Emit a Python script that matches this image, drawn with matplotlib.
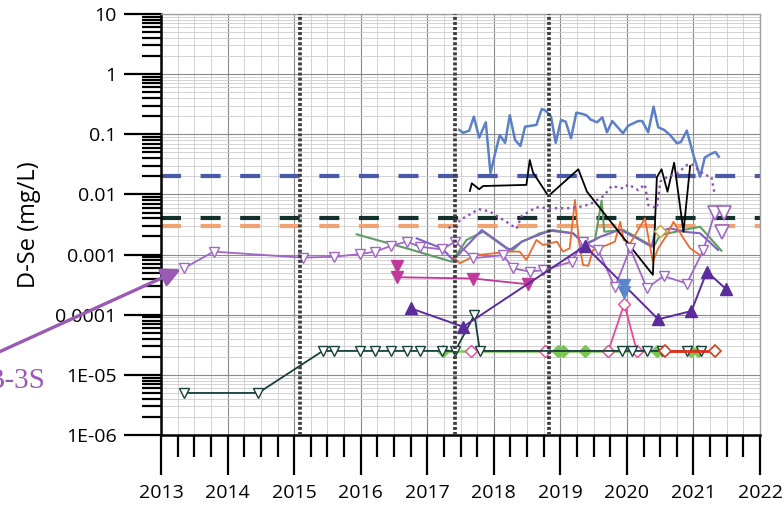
import matplotlib
matplotlib.use("Agg")
import matplotlib.pyplot as plt
from matplotlib.ticker import FixedLocator, FixedFormatter, LogLocator, MultipleLocator, NullFormatter

plt.rcParams['font.family'] = ['Open Sans', 'DejaVu Sans']

# screening levels (mg/L) and event dates
limit_blue = 0.02
limit_dark = 0.004
limit_orange = 0.003
event_years = [2015.09, 2017.42, 2018.83]

# B-3S well
b3s_t = [2013.34, 2013.79, 2015.13, 2015.60, 2015.99, 2016.22, 2016.46, 2016.69, 2016.89,
         2017.22, 2017.42, 2017.69, 2018.14, 2018.29, 2018.54, 2018.74, 2019.17, 2019.34,
         2019.57, 2019.82, 2020.05, 2020.30, 2020.55, 2020.90, 2021.15, 2021.32]
b3s_v = [0.00059, 0.00112, 0.00089, 0.00092, 0.00102, 0.00112, 0.0014, 0.00164, 0.00135,
         0.00122, 0.00164, 0.00087, 0.00098, 0.00059, 0.00052, 0.00055, 0.00076, 0.00164,
         0.00119, 0.000286, 0.00127, 0.000275, 0.00044, 0.00033, 0.00119, 0.0049]
b3s_last_t = [2021.32, 2021.46, 2021.43]
b3s_last_v = [0.0049, 0.0049, 0.0024]

# upstream well, mostly non-detect
teal_t = [2013.35, 2014.46, 2015.43, 2015.60, 2015.99, 2016.22, 2016.46, 2016.69, 2016.89,
          2017.22, 2017.42, 2017.71, 2017.79, 2019.92, 2020.07, 2020.30, 2020.52, 2020.90,
          2021.12]
teal_v = [5.0e-6, 5.0e-6, 2.5e-5, 2.5e-5, 2.5e-5, 2.5e-5, 2.5e-5, 2.5e-5, 2.5e-5,
          2.5e-5, 2.5e-5, 9.9e-5, 2.5e-5, 2.5e-5, 2.5e-5, 2.5e-5, 2.5e-5, 2.5e-5,
          2.5e-5]

blue_t = [2017.48, 2017.54, 2017.63, 2017.70, 2017.78, 2017.88, 2017.95, 2018.02, 2018.09,
          2018.17, 2018.24, 2018.32, 2018.40, 2018.47, 2018.64, 2018.72, 2018.78, 2018.86,
          2018.93, 2019.01, 2019.08, 2019.16, 2019.24, 2019.34, 2019.40, 2019.45, 2019.55,
          2019.63, 2019.70, 2019.78, 2019.94, 2020.02, 2020.17, 2020.23, 2020.32, 2020.40,
          2020.47, 2020.56, 2020.65, 2020.75, 2020.81, 2020.90, 2021.00, 2021.10, 2021.17,
          2021.25, 2021.33, 2021.38]
blue_v = [0.118, 0.106, 0.115, 0.196, 0.088, 0.158, 0.0224, 0.0483, 0.097,
          0.072, 0.207, 0.080, 0.064, 0.134, 0.143, 0.263, 0.247, 0.196,
          0.072, 0.173, 0.162, 0.086, 0.229, 0.217, 0.204, 0.177, 0.158,
          0.191, 0.108, 0.166, 0.104, 0.139, 0.166, 0.166, 0.108, 0.288,
          0.131, 0.118, 0.097, 0.071, 0.074, 0.115, 0.045, 0.0197, 0.041,
          0.0465, 0.0507, 0.0424]

black_t = [2017.64, 2017.67, 2017.78, 2017.84, 2018.49, 2018.54, 2018.59, 2018.82, 2019.27,
           2019.40, 2020.39, 2020.45, 2020.52, 2020.61, 2020.71, 2020.85, 2020.95]
black_v = [0.0114, 0.0153, 0.0122, 0.0138, 0.0144, 0.0374, 0.0230, 0.0094, 0.0262,
           0.0111, 0.00046, 0.0193, 0.0262, 0.0111, 0.0337, 0.0024, 0.0297]

pdot_t = [2017.32, 2017.42, 2017.49, 2017.59, 2017.77, 2017.94, 2018.19, 2018.34, 2018.42,
          2018.64, 2018.84, 2019.14, 2019.32, 2019.45, 2019.65, 2019.77, 2019.95, 2020.02,
          2020.17, 2020.27, 2020.32, 2020.45, 2020.50, 2020.60, 2020.77, 2020.90, 2020.97,
          2021.10, 2021.22, 2021.27, 2021.32]
pdot_v = [0.0029, 0.0024, 0.0038, 0.0043, 0.0057, 0.0052, 0.0035, 0.0027, 0.0044,
          0.0061, 0.0059, 0.0059, 0.0063, 0.0069, 0.0094, 0.0138, 0.0126, 0.0147,
          0.0118, 0.0147, 0.0067, 0.0059, 0.0163, 0.0193, 0.0230, 0.0308, 0.0321,
          0.0239, 0.0202, 0.0197, 0.0098]

orange_t = [2017.39, 2017.49, 2017.74, 2018.24, 2018.39, 2018.49, 2018.64, 2018.74, 2018.95,
            2019.04, 2019.14, 2019.22, 2019.28, 2019.34, 2019.42, 2019.49, 2019.70, 2019.82,
            2019.90, 2019.95, 2020.05, 2020.27, 2020.39, 2020.47, 2020.60, 2020.70, 2020.85,
            2020.95, 2021.10]
orange_v = [0.00091, 0.00072, 0.00098, 0.00112, 0.00112, 0.00081, 0.00175, 0.00144, 0.00164,
            0.00112, 0.00127, 0.0081, 0.00164, 0.00067, 0.00065, 0.00119, 0.00144, 0.00164,
            0.0035, 0.00175, 0.00154, 0.0040, 0.00076, 0.00127, 0.0021, 0.0035, 0.00186,
            0.00127, 0.00098]

green_t = [2015.94, 2016.69, 2017.37, 2017.59, 2017.84, 2018.19, 2018.29, 2018.42, 2018.54,
           2018.69, 2018.89, 2019.19, 2019.37, 2019.52, 2019.62, 2019.66, 2019.95, 2020.40,
           2020.50, 2020.85, 2021.10, 2021.42]
green_v = [0.00217, 0.00127, 0.00076, 0.00175, 0.0024, 0.00127, 0.00119, 0.00164, 0.00186,
           0.00226, 0.00256, 0.00226, 0.00154, 0.00175, 0.0079, 0.0024, 0.00256, 0.00135,
           0.0021, 0.00256, 0.0029, 0.00116]

mpurple_t = [2016.84, 2017.22, 2017.39, 2017.82, 2018.24, 2018.42, 2018.54, 2018.74, 2018.84,
             2019.19, 2019.37, 2019.60, 2019.90, 2020.15, 2020.37, 2020.42, 2020.65, 2020.85,
             2021.10, 2021.37]
mpurple_v = [0.00186, 0.00127, 0.00081, 0.00256, 0.00119, 0.00164, 0.00186, 0.00226, 0.0025,
             0.00226, 0.00144, 0.00198, 0.0026, 0.00186, 0.00135, 0.00226, 0.00274, 0.0024,
             0.00226, 0.00119]

magenta_t = [2016.54, 2016.54, 2017.69, 2018.52]
magenta_v = [0.00065, 0.00042, 0.0004, 0.00032]

dpurple_t = [2016.75, 2017.54, 2019.37, 2020.47, 2020.97, 2021.20, 2021.49]
dpurple_v = [0.000128, 6.3e-5, 0.00139, 8.4e-5, 0.000115, 0.00052, 0.000267]

lgreen_t = [2017.24, 2018.97, 2019.04, 2019.37, 2019.72, 2020.45, 2020.97, 2021.07]
lgreen_v = [2.5e-5, 2.5e-5, 2.5e-5, 2.5e-5, 2.5e-5, 2.5e-5, 2.5e-5, 2.5e-5]

pink_t = [2017.65, 2018.77, 2019.72, 2019.96, 2020.15]
pink_v = [2.5e-5, 2.5e-5, 2.5e-5, 0.00015, 2.5e-5]

red_t = [2020.57, 2021.32]
red_v = [2.5e-5, 2.5e-5]

bluetri_t = [2019.95, 2019.95]
bluetri_v = [0.00031, 0.00024]

olive_t = [2020.49]
olive_v = [0.0025]

ytick_vals = [1e-6, 1e-5, 1e-4, 1e-3, 1e-2, 1e-1, 1, 10]
ytick_labels = ['1E-06', '1E-05', '0.0001', '0.001', '0.01', '0.1', '1', '10']
xtick_years = [2013, 2014, 2015, 2016, 2017, 2018, 2019, 2020, 2021, 2022]

fig = plt.figure(figsize=(7.84, 5.05), dpi=100)
ax = fig.add_axes([0.2054, 0.1386, 0.7640, 0.8337])
ax.set_yscale('log')
ax.set_xlim(2013, 2022)
ax.set_ylim(1e-6, 10)

# grid
ax.set_axisbelow(True)
ax.grid(which='major', color='#8a8a8a', lw=0.8)
ax.grid(which='minor', color='#cccccc', lw=0.6)

# screening levels
dash = (0, (4.8, 4.7))
ax.axhline(limit_blue, color='#4a5aa8', lw=3, ls=dash, zorder=2)
ax.axhline(limit_dark, color='#12302c', lw=3, ls=dash, zorder=2)
ax.axhline(limit_orange, color='#f0a272', lw=3, ls=dash, zorder=2)

for yr in event_years:
    ax.axvline(yr, color='#3e3e3e', lw=2.7, ls=(0, (0.8, 0.55)), zorder=6)

ax.plot(green_t, green_v, color='#5f9e62', lw=1.5, zorder=3)
ax.plot(mpurple_t, mpurple_v, color='#8062c2', lw=1.5, zorder=3)
ax.plot(orange_t, orange_v, color='#ec6b2d', lw=1.3, zorder=3)
ax.plot(blue_t, blue_v, color='#5b80c8', lw=1.8, zorder=3)
ax.plot(black_t, black_v, color='black', lw=1.3, zorder=3)
ax.plot(pdot_t, pdot_v, color='#8e50b8', lw=1.7, ls=(0, (1, 1.6)), zorder=3)
ax.plot(lgreen_t, lgreen_v, color='#78c850', lw=1.8, marker='D', ms=6,
        mfc='#78c850', mec='#78c850', zorder=4)
ax.plot(pink_t, pink_v, color='#e8489c', lw=1.3, marker='D', ms=6,
        mfc='white', mec='#e8489c', mew=1.0, zorder=4)
ax.plot(teal_t, teal_v, color='#17403c', lw=1.3, marker='v', ms=7,
        mfc='white', mec='#17403c', mew=1.0, zorder=4)
ax.plot(red_t, red_v, color='#e3301e', lw=2, marker='D', ms=6,
        mfc='white', mec='#d0401c', mew=1.2, zorder=4)
ax.plot(b3s_t, b3s_v, color='#a066c8', lw=1.3, marker='v', ms=7,
        mfc='white', mec='#a066c8', mew=1.0, zorder=4)
ax.plot(b3s_last_t, b3s_last_v, ls='none', marker='v', ms=10,
        mfc='white', mec='#a066c8', mew=1.2, zorder=4)
ax.plot(magenta_t, magenta_v, color='#c0399a', lw=1.3, marker='v', ms=8,
        mfc='#c0399a', mec='#c0399a', zorder=4)
ax.plot(dpurple_t, dpurple_v, color='#5b2c9c', lw=1.4, marker='^', ms=8,
        mfc='#5b2c9c', mec='#5b2c9c', zorder=4)
ax.plot(bluetri_t, bluetri_v, ls='none', marker='v', ms=8,
        mfc='#5a85cc', mec='#5a85cc', zorder=4)
ax.plot(olive_t, olive_v, ls='none', marker='D', ms=6,
        mfc='white', mec='#c8a030', mew=1.0, zorder=4)

# axes styling
ax.yaxis.set_major_locator(FixedLocator(ytick_vals))
ax.yaxis.set_major_formatter(FixedFormatter(ytick_labels))
ax.yaxis.set_minor_locator(LogLocator(base=10, subs=(2, 3, 4, 5, 6, 7, 8, 9), numticks=20))
ax.yaxis.set_minor_formatter(NullFormatter())
ax.xaxis.set_major_locator(FixedLocator(xtick_years))
ax.xaxis.set_minor_locator(MultipleLocator(0.25))

ax.tick_params(axis='y', which='major', direction='out', length=27, width=1.6,
               labelsize=14, pad=5)
ax.tick_params(axis='y', which='minor', direction='out', length=14, width=1.6)
ax.tick_params(axis='x', which='major', direction='out', length=29, width=1.6,
               labelsize=14, pad=6)
ax.tick_params(axis='x', which='minor', direction='out', length=16, width=1.6)

for side in ['left', 'bottom']:
    ax.spines[side].set_linewidth(1.8)
    ax.spines[side].set_color('black')
for side in ['top', 'right']:
    ax.spines[side].set_linewidth(1.0)
    ax.spines[side].set_color('#a0a0a0')

ax.set_ylabel('D-Se (mg/L)', fontsize=17)
ax.yaxis.set_label_coords(-0.200, 0.5)

# well label with arrow, cut by the left edge as in the source figure
purple = '#9b59b6'
ax.annotate('', xy=(2013.30, 0.00057), xycoords='data',
            xytext=(-12, 505 - 357), textcoords='figure pixels',
            arrowprops=dict(arrowstyle='-|>', color=purple, lw=2.4,
                            mutation_scale=28, shrinkA=0, shrinkB=0),
            annotation_clip=False)
fig.text(45 / 784, 1 - 388 / 505, 'B-3S', ha='right', va='baseline',
         fontsize=21, color=purple, family=['Liberation Serif', 'DejaVu Serif'])

fig.savefig('out.png', dpi=100)
